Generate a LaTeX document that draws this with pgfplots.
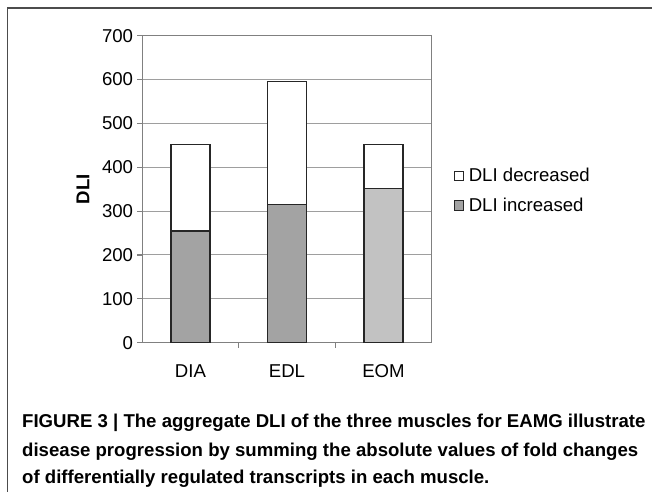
\documentclass[border=0pt]{standalone}
\usepackage{pgfplots}
\pgfplotsset{compat=1.18}
\usepackage{fontspec}
\setmainfont{Liberation Sans}
\newcommand{\fs}{\fontsize{18.6bp}{22bp}\selectfont}
\begin{document}
\begin{tikzpicture}
\useasboundingbox (0,0) rectangle (652bp,492bp);
\fill[white] (0,0) rectangle (652bp,492bp);
\draw[black!70, line width=1.6bp] (7.5bp,0) -- (7.5bp,484bp) -- (652bp,484bp);
\begin{axis}[
  at={(142.25bp,149.3bp)}, anchor=south west,
  scale only axis, width=289.5bp, height=307bp,
  xmin=-0.5, xmax=2.5, ymin=0, ymax=700,
  ytick={0,100,...,700},
  xtick={0,1,2}, xticklabels={DIA,EDL,EOM},
  minor xtick={0.5,1.5},
  xtick pos=bottom, ytick pos=left,
  tick align=outside, major tick length=5bp, minor tick length=5bp,
  major x tick style={draw=none},
  ymajorgrids, grid style={black!38, line width=1bp},
  axis line style={black!50, line width=1.1bp},
  tick style={black!50, line width=1.1bp},
  ticklabel style={font=\fs},
  /pgf/number format/assume math mode=true,
  yticklabel style={inner sep=0pt, xshift=-4bp},
  xticklabel style={inner sep=0pt, anchor=north, text height=13.4bp, text depth=0pt, yshift=-15.8bp},
  ylabel={\bfseries DLI},
  ylabel style={at={(axis description cs:-0.2047,0.5)}, anchor=center, font=\fs},
  legend cell align=left,
  legend image code/.code={\draw[#1, line width=0.9bp] (0bp,-4.7bp) rectangle (9.4bp,4.7bp);},
  legend style={at={(axis description cs:1.0745,0.575)}, anchor=north west,
    draw=none, fill=none, font=\fs, row sep=10.5bp, inner sep=0pt,
    nodes={inner sep=2bp},
    /tikz/every odd column/.append style={column sep=3bp}},
]
\addplot[ybar, bar width=0.4, bar shift=0, fill=white, draw=black!85, line width=1.5bp]
  coordinates {(0,452) (1,596) (2,452)};
\addlegendentry{DLI decreased}
\addplot[ybar, bar width=0.4, bar shift=0, fill=black!36, draw=black!85, line width=1.5bp]
  coordinates {(0,255) (1,315)};
\addlegendentry{DLI increased}
\addplot[ybar, bar width=0.4, bar shift=0, fill=black!24, draw=black!85, line width=1.5bp, forget plot]
  coordinates {(2,352)};
\end{axis}
\node[anchor=base west, inner sep=0pt, font=\fs\bfseries] at (22bp,64bp) {FIGURE 3 | The aggregate DLI of the three muscles for EAMG illustrate};
\node[anchor=base west, inner sep=0pt, font=\fs\bfseries] at (22bp,36bp) {disease progression by summing the absolute values of fold changes};
\node[anchor=base west, inner sep=0pt, font=\fs\bfseries] at (22bp,8.5bp) {of differentially regulated transcripts in each muscle.};
\end{tikzpicture}
\end{document}
